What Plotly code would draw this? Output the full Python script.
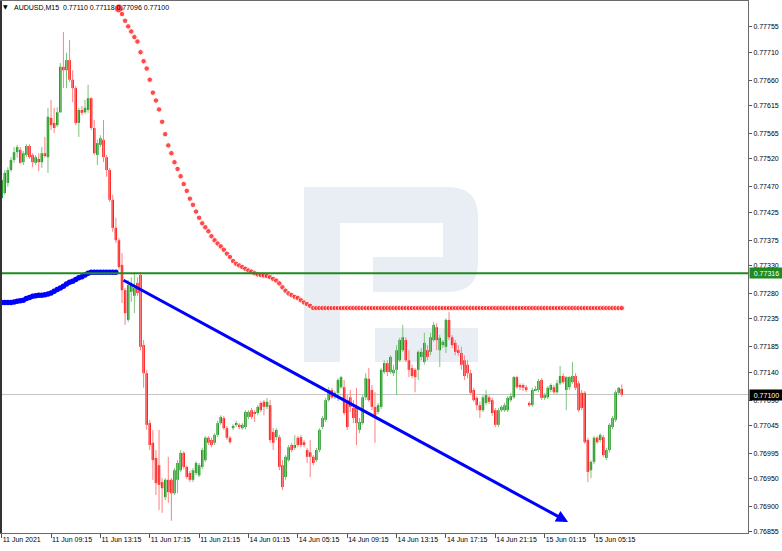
import plotly.graph_objects as go

# ---------------- data ----------------
bar_index = list(range(202))

opens = [
0.77450,0.77459,0.77477,0.77500,0.77518,0.77532,0.77536,0.77514,0.77527,0.77543,
0.77527,0.77513,0.77520,0.77514,0.77530,0.77523,0.77593,0.77584,0.77580,0.77603,
0.77684,0.77678,0.77696,0.77661,0.77646,0.77584,0.77607,0.77603,0.77607,0.77628,
0.77575,0.77527,0.77545,0.77554,0.77523,0.77500,0.77447,0.77397,0.77375,0.77331,
0.77286,0.77233,0.77283,0.77276,0.77299,0.77313,0.77188,0.77138,0.77049,0.77014,
0.76987,0.76974,0.76944,0.76917,0.76948,0.76948,0.76924,0.76948,0.76965,0.76996,
0.76971,0.76960,0.76948,0.76960,0.76956,0.76971,0.76983,0.77023,0.77019,0.77014,
0.77028,0.77049,0.77058,0.77040,0.77023,0.77040,0.77046,0.77046,0.77040,0.77042,
0.77060,0.77072,0.77067,0.77067,0.77085,0.77087,0.77078,0.77081,0.77033,0.77024,
0.77024,0.76974,0.76953,0.76983,0.77010,0.77005,0.77023,0.77024,0.77015,0.77001,
0.76997,0.76989,0.76983,0.77001,0.77042,0.77055,0.77090,0.77108,0.77095,0.77103,
0.77113,0.77113,0.77090,0.77095,0.77076,0.77078,0.77037,0.77049,0.77095,0.77128,
0.77108,0.77078,0.77069,0.77078,0.77140,0.77156,0.77140,0.77138,0.77144,0.77161,
0.77179,0.77197,0.77161,0.77147,0.77144,0.77144,0.77167,0.77158,0.77179,0.77176,
0.77197,0.77220,0.77179,0.77188,0.77185,0.77233,0.77202,0.77192,0.77179,0.77174,
0.77161,0.77153,0.77138,0.77108,0.77094,0.77081,0.77072,0.77085,0.77095,0.77090,
0.77072,0.77046,0.77072,0.77072,0.77072,0.77090,0.77095,0.77131,0.77117,0.77117,
0.77113,0.77085,0.77081,0.77108,0.77108,0.77126,0.77094,0.77095,0.77108,0.77113,
0.77104,0.77120,0.77133,0.77108,0.77113,0.77122,0.77133,0.77120,0.77103,0.77103,
0.77019,0.76965,0.76980,0.77023,0.77019,0.77024,0.76987,0.77001,0.77042,0.77055,
0.77103,0.77110]

highs = [
0.77486,0.77500,0.77505,0.77523,0.77541,0.77545,0.77541,0.77534,0.77546,0.77546,
0.77530,0.77527,0.77530,0.77541,0.77559,0.77611,0.77625,0.77611,0.77612,0.77691,
0.77746,0.77709,0.77732,0.77678,0.77650,0.77611,0.77614,0.77625,0.77652,0.77630,
0.77589,0.77554,0.77562,0.77589,0.77527,0.77504,0.77456,0.77415,0.77379,0.77352,
0.77290,0.77304,0.77309,0.77317,0.77309,0.77318,0.77197,0.77144,0.77055,0.77037,
0.77001,0.77037,0.76951,0.76951,0.76989,0.76951,0.76969,0.76983,0.77001,0.76999,
0.76974,0.76964,0.76969,0.76981,0.76978,0.77005,0.77026,0.77026,0.77023,0.77031,
0.77053,0.77063,0.77062,0.77044,0.77026,0.77047,0.77053,0.77049,0.77049,0.77072,
0.77072,0.77076,0.77072,0.77081,0.77088,0.77090,0.77094,0.77090,0.77040,0.77040,
0.77028,0.76983,0.76992,0.77010,0.77014,0.77028,0.77026,0.77028,0.77019,0.77005,
0.77019,0.76992,0.77005,0.77040,0.77062,0.77094,0.77113,0.77112,0.77106,0.77129,
0.77133,0.77126,0.77099,0.77108,0.77090,0.77112,0.77058,0.77099,0.77138,0.77147,
0.77117,0.77104,0.77085,0.77147,0.77161,0.77161,0.77170,0.77153,0.77188,0.77201,
0.77224,0.77202,0.77179,0.77153,0.77147,0.77179,0.77183,0.77210,0.77188,0.77210,
0.77229,0.77227,0.77206,0.77197,0.77236,0.77247,0.77206,0.77197,0.77188,0.77185,
0.77170,0.77161,0.77144,0.77112,0.77097,0.77087,0.77099,0.77108,0.77099,0.77094,
0.77076,0.77076,0.77081,0.77085,0.77097,0.77103,0.77133,0.77133,0.77120,0.77120,
0.77117,0.77088,0.77112,0.77115,0.77128,0.77129,0.77103,0.77115,0.77120,0.77117,
0.77126,0.77151,0.77138,0.77133,0.77133,0.77158,0.77138,0.77124,0.77108,0.77106,
0.77023,0.76983,0.77026,0.77026,0.77031,0.77028,0.77005,0.77049,0.77062,0.77108,
0.77113,0.77118]

lows = [
0.77447,0.77456,0.77470,0.77497,0.77513,0.77522,0.77511,0.77509,0.77523,0.77520,
0.77505,0.77509,0.77498,0.77504,0.77522,0.77495,0.77571,0.77566,0.77577,0.77602,
0.77646,0.77646,0.77657,0.77621,0.77580,0.77559,0.77598,0.77600,0.77602,0.77571,
0.77527,0.77509,0.77541,0.77514,0.77488,0.77443,0.77390,0.77370,0.77322,0.77263,
0.77224,0.77229,0.77265,0.77245,0.77276,0.77179,0.77112,0.77037,0.77001,0.76948,
0.76921,0.76894,0.76889,0.76912,0.76907,0.76875,0.76921,0.76924,0.76962,0.76967,
0.76949,0.76944,0.76944,0.76956,0.76953,0.76967,0.76980,0.77010,0.77006,0.77010,
0.77024,0.77046,0.77037,0.77019,0.77012,0.77037,0.77042,0.77038,0.77037,0.77038,
0.77056,0.77056,0.77051,0.77063,0.77069,0.77063,0.77074,0.77014,0.77001,0.77019,
0.76965,0.76930,0.76948,0.76980,0.76997,0.77001,0.77006,0.77006,0.77006,0.76978,
0.76953,0.76974,0.76980,0.76997,0.77038,0.77051,0.77087,0.77092,0.77092,0.77088,
0.77110,0.77063,0.77037,0.77069,0.77049,0.77010,0.77031,0.77046,0.77090,0.77087,
0.77072,0.77014,0.77065,0.77074,0.77137,0.77133,0.77137,0.77133,0.77099,0.77158,
0.77176,0.77158,0.77131,0.77129,0.77104,0.77126,0.77161,0.77153,0.77161,0.77170,
0.77194,0.77179,0.77149,0.77183,0.77174,0.77197,0.77183,0.77170,0.77169,0.77144,
0.77126,0.77129,0.77099,0.77087,0.77072,0.77058,0.77069,0.77081,0.77083,0.77062,
0.77042,0.77042,0.77069,0.77069,0.77069,0.77087,0.77092,0.77110,0.77108,0.77106,
0.77104,0.77078,0.77078,0.77106,0.77104,0.77090,0.77090,0.77092,0.77104,0.77101,
0.77101,0.77117,0.77119,0.77072,0.77108,0.77119,0.77108,0.77069,0.77072,0.77012,
0.76944,0.76951,0.76976,0.77012,0.77015,0.76989,0.76983,0.76997,0.77038,0.77051,
0.77099,0.77096]

closes = [
0.77482,0.77495,0.77500,0.77518,0.77532,0.77541,0.77513,0.77530,0.77543,0.77523,
0.77514,0.77523,0.77514,0.77530,0.77525,0.77595,0.77580,0.77575,0.77603,0.77684,
0.77678,0.77696,0.77661,0.77646,0.77584,0.77607,0.77602,0.77611,0.77628,0.77575,
0.77530,0.77548,0.77557,0.77523,0.77500,0.77447,0.77397,0.77375,0.77327,0.77286,
0.77245,0.77295,0.77295,0.77290,0.77281,0.77185,0.77138,0.77046,0.77010,0.76983,
0.76942,0.76939,0.76933,0.76948,0.76926,0.76924,0.76965,0.76978,0.76996,0.76971,
0.76953,0.76948,0.76965,0.76978,0.76974,0.77001,0.77023,0.77014,0.77010,0.77028,
0.77049,0.77060,0.77040,0.77023,0.77015,0.77044,0.77049,0.77042,0.77046,0.77069,
0.77069,0.77060,0.77066,0.77078,0.77072,0.77078,0.77087,0.77019,0.77014,0.77037,
0.76971,0.76935,0.76989,0.77006,0.77001,0.77010,0.77010,0.77010,0.77010,0.76989,
0.76989,0.76978,0.77001,0.77037,0.77058,0.77090,0.77108,0.77095,0.77103,0.77126,
0.77131,0.77067,0.77042,0.77078,0.77058,0.77049,0.77051,0.77095,0.77129,0.77090,
0.77078,0.77060,0.77081,0.77144,0.77156,0.77140,0.77167,0.77144,0.77179,0.77197,
0.77202,0.77161,0.77144,0.77133,0.77131,0.77176,0.77176,0.77192,0.77167,0.77202,
0.77224,0.77197,0.77201,0.77194,0.77233,0.77202,0.77188,0.77176,0.77174,0.77153,
0.77133,0.77138,0.77103,0.77090,0.77081,0.77072,0.77095,0.77099,0.77087,0.77067,
0.77046,0.77072,0.77078,0.77081,0.77094,0.77097,0.77131,0.77113,0.77113,0.77112,
0.77108,0.77081,0.77108,0.77110,0.77124,0.77094,0.77099,0.77112,0.77117,0.77104,
0.77120,0.77133,0.77122,0.77131,0.77131,0.77133,0.77112,0.77072,0.77076,0.77015,
0.76962,0.76980,0.77023,0.77015,0.77028,0.76992,0.77001,0.77046,0.77058,0.77104,
0.77112,0.77100]

# blue indicator dots (bars 0-37)
blue_index = list(range(0, 38))
blue_values = [
0.77264,0.77264,0.77264,0.77264,0.77265,0.77266,0.77267,0.77268,0.77271,0.77273,
0.77275,0.77276,0.77277,0.77277,0.77278,0.77279,0.77281,0.77284,0.77287,0.77290,
0.77293,0.77297,0.77300,0.77302,0.77305,0.77308,0.77310,0.77313,0.77316,0.77318,
0.77318,0.77318,0.77318,0.77318,0.77318,0.77318,0.77318,0.77318]

# red indicator dots (bars 38-201)
red_index = list(range(38, 202))
red_values = [
0.77788,0.77778,0.77766,0.77756,0.77747,0.77737,0.77729,0.77710,0.77694,0.77681,
0.77661,0.77638,0.77624,0.77608,0.77586,0.77564,0.77544,0.77530,0.77514,0.77502,
0.77489,0.77475,0.77463,0.77449,0.77438,0.77426,0.77415,0.77405,0.77398,0.77391,
0.77382,0.77375,0.77369,0.77364,0.77358,0.77351,0.77345,0.77338,0.77333,0.77330,
0.77327,0.77324,0.77321,0.77319,0.77316,0.77314,0.77313,0.77312,0.77311,0.77309,
0.77306,0.77303,0.77298,0.77291,0.77285,0.77280,0.77277,0.77274,0.77272,0.77268,
0.77264,0.77261,0.77258] + [0.77254] * 101

level_price = 0.77316
bid_price = 0.77100
trend_start = (39.0, 0.77305)
trend_end = (183.6, 0.76873)

y_tick_values = [0.77755, 0.77710, 0.77660, 0.77615, 0.77565, 0.77520, 0.77470,
                 0.77425, 0.77375, 0.77330, 0.77280, 0.77235, 0.77185, 0.77140,
                 0.77090, 0.77045, 0.76995, 0.76950, 0.76900, 0.76855]
x_tick_index = [0, 16, 32, 48, 64, 80, 96, 112, 128, 144, 160, 176, 192]
x_tick_text = ["11 Jun 2021", "11 Jun 09:15", "11 Jun 13:15", "11 Jun 17:15",
               "11 Jun 21:15", "14 Jun 01:15", "14 Jun 05:15", "14 Jun 09:15",
               "14 Jun 13:15", "14 Jun 17:15", "14 Jun 21:15", "15 Jun 01:15",
               "15 Jun 05:15"]
symbol_title = "AUDUSD,M15"

# ---------------- figure ----------------
FONT = "Liberation Sans, Arial, sans-serif"
W, H = 782, 551
ML, MR, MT, MB = 1, 34, 1, 18
PW, PH = W - ML - MR, H - MT - MB


def px(x, y):
    return f"{(x - ML) / PW:.5f},{(MT + PH - y) / PH:.5f}"


fig = go.Figure()

# wicks
up_x, up_y, dn_x, dn_y = [], [], [], []
for i, o, h, l, c in zip(bar_index, opens, highs, lows, closes):
    if c >= o:
        up_x += [i, i, None]; up_y += [l, h, None]
    else:
        dn_x += [i, i, None]; dn_y += [l, h, None]
fig.add_trace(go.Scatter(x=dn_x, y=dn_y, mode="lines",
                         line=dict(color="#ff8080", width=1), hoverinfo="skip"))
fig.add_trace(go.Scatter(x=up_x, y=up_y, mode="lines",
                         line=dict(color="#7cc47c", width=1), hoverinfo="skip"))

# bodies
fig.add_trace(go.Bar(
    x=bar_index,
    base=[min(o, c) for o, c in zip(opens, closes)],
    y=[max(abs(c - o), 0.000012) for o, c in zip(opens, closes)],
    width=0.8,
    marker=dict(color=["#058a05" if c >= o else "#ff0000" for o, c in zip(opens, closes)],
                line=dict(width=0)),
    hoverinfo="skip"))

# indicator dots
fig.add_trace(go.Scatter(x=blue_index, y=blue_values, mode="markers",
                         marker=dict(color="#0000ff", size=5.5), hoverinfo="skip"))
fig.add_trace(go.Scatter(x=red_index, y=red_values, mode="markers",
                         marker=dict(color="#ff0000",
                                     size=[9] + [5.5] * (len(red_values) - 1)),
                         hoverinfo="skip"))

shapes = []
# watermark logo
wm = "#e9edf4"
shapes.append(dict(type="path", xref="paper", yref="paper", layer="below",
                   fillcolor=wm, line=dict(width=0),
                   path=("M " + px(304, 187) + " L " + px(448, 187) +
                         " Q " + px(478, 187) + " " + px(478, 217) +
                         " L " + px(478, 262) +
                         " Q " + px(478, 292) + " " + px(448, 292) +
                         " L " + px(373, 292) + " L " + px(373, 257) +
                         " L " + px(443, 257) + " L " + px(443, 223) +
                         " L " + px(340, 223) + " L " + px(340, 362) +
                         " L " + px(304, 362) + " Z")))
shapes.append(dict(type="path", xref="paper", yref="paper", layer="below",
                   fillcolor=wm, line=dict(width=0),
                   path=("M " + px(375, 328) + " L " + px(478, 328) + " L " +
                         px(478, 362) + " L " + px(375, 362) + " Z")))
# bid line
shapes.append(dict(type="line", xref="paper", x0=0, x1=1, yref="y",
                   y0=bid_price, y1=bid_price, layer="below",
                   line=dict(color="#c4c4c4", width=1)))
# horizontal level
shapes.append(dict(type="line", xref="paper", x0=0, x1=1, yref="y",
                   y0=level_price, y1=level_price, layer="above",
                   line=dict(color="#1f8a1f", width=2)))
# left frame edge (darker)
shapes.append(dict(type="line", xref="paper", yref="paper", x0=0, x1=0, y0=0, y1=1,
                   layer="above", line=dict(color="#333333", width=2)))

annotations = [
    dict(x=trend_end[0], y=trend_end[1], xref="x", yref="y",
         ax=trend_start[0], ay=trend_start[1], axref="x", ayref="y",
         text="", showarrow=True, arrowhead=2, arrowsize=0.8,
         arrowwidth=3, arrowcolor="#0000ff"),
    dict(xref="paper", yref="paper", x=(12 - ML) / PW, y=(MT + PH - 7.5) / PH,
         xanchor="left", yanchor="middle", showarrow=False,
         text=f"{symbol_title}  {opens[-1]:.5f} {highs[-1]:.5f} {lows[-1]:.5f} {closes[-1]:.5f}",
         font=dict(family=FONT, size=7, color="#000000")),
    dict(xref="paper", yref="paper", x=(5.5 - ML) / PW, y=(MT + PH - 7) / PH,
         xanchor="center", yanchor="middle", showarrow=False, text="▼",
         font=dict(family="DejaVu Sans", size=6, color="#000000")),
    dict(xref="paper", yref="y", x=1, y=level_price, xanchor="left", xshift=1,
         yanchor="middle", showarrow=False, text=f"{level_price:.5f}",
         width=33, height=10, borderpad=0, bgcolor="#1f8a1f",
         font=dict(family=FONT, size=7, color="#ffffff")),
    dict(xref="paper", yref="y", x=1, y=bid_price, xanchor="left", xshift=1,
         yanchor="middle", showarrow=False, text=f"{bid_price:.5f}",
         width=33, height=10, borderpad=0, bgcolor="#000000",
         font=dict(family=FONT, size=7, color="#ffffff")),
]

fig.update_layout(
    width=W, height=H,
    margin=dict(l=ML, r=MR, t=MT, b=MB, pad=0, autoexpand=False),
    paper_bgcolor="#ffffff", plot_bgcolor="#ffffff",
    showlegend=False, hovermode=False,
    shapes=shapes, annotations=annotations,
    xaxis=dict(range=[-0.227, 241.91], showgrid=False, zeroline=False,
               showline=True, mirror=True, linecolor="#6a6a6a", linewidth=1,
               ticks="outside", ticklen=4, tickcolor="#555555",
               tickvals=x_tick_index, ticktext=x_tick_text,
               ticklabelposition="outside right", tickangle=0,
               automargin=False,
               tickfont=dict(family=FONT, size=7, color="#000000"),
               fixedrange=True),
    yaxis=dict(range=[0.768532, 0.778013], side="right", showgrid=False,
               zeroline=False, showline=True, mirror=True,
               linecolor="#6a6a6a", linewidth=1,
               ticks="outside", ticklen=3, tickcolor="#555555",
               tickvals=y_tick_values, automargin=False,
               ticktext=[f"{v:.5f}" for v in y_tick_values],
               tickfont=dict(family=FONT, size=7, color="#000000"),
               fixedrange=True),
)

fig.write_html("out.html", config={"displayModeBar": False},
               post_script="document.body.style.margin='0';document.body.style.overflow='hidden';")
